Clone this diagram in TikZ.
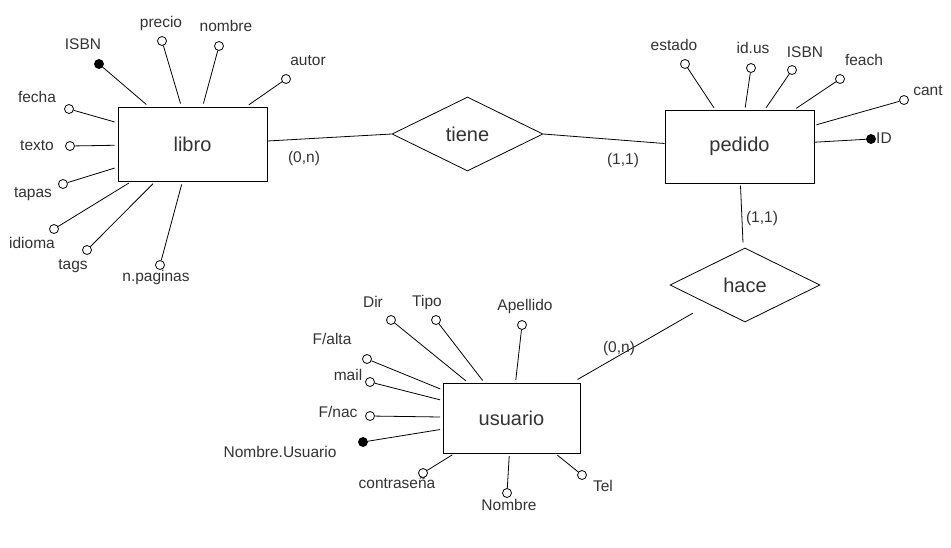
\documentclass[tikz,border=0pt]{standalone}
\usepackage{fontspec}
\setmainfont{Liberation Sans}
\usetikzlibrary{shapes.geometric,calc}
\definecolor{txt}{HTML}{333333}
\begin{document}
\begin{tikzpicture}[x=1pt,y=-1pt,
  ent/.style={draw,line width=1pt,inner sep=0pt,font=\fontsize{20}{23}\selectfont,text=txt},
  rel/.style={draw,diamond,aspect=2,inner sep=0pt,minimum width=151pt,minimum height=74pt,line width=0.8pt,font=\fontsize{20}{23}\selectfont,text=txt},
  att/.style={circle,draw,fill=white,minimum size=9pt,inner sep=0pt,line width=0.8pt},
  keyatt/.style={att,fill=black},
  lab/.style={font=\fontsize{15.5}{18}\selectfont,text=txt,inner sep=0pt,text height=11pt,text depth=3pt},
  con/.style={line width=0.8pt},
]
\fill[white] (0,0) rectangle (951,547);
\useasboundingbox (0,0) rectangle (951,547);

% entities
\node[ent,minimum width=149pt,minimum height=74pt] (libro) at (192.5,144) {libro};
\node[ent,minimum width=149pt,minimum height=73pt] (pedido) at (739.5,146.5) {pedido};
\node[ent,minimum width=137pt,minimum height=70pt] (usuario) at (511.5,418) {usuario};

% relationships
\node[rel] (tiene) at (467.5,134) {tiene};
\node[rel,minimum width=150pt] (hace) at (745,285) {hace};

% relationship connectors
\draw[con] ($(libro.east)+(0,-3)$) -- (tiene.west);
\draw[con] (tiene.east) -- ($(pedido.west)+(0,-3)$);
\draw[con] ($(pedido.south)+(1,2)$) -- ($(hace.north)+(-2,-5)$);
\coordinate (hacefree) at ($(hace.south west)+(-14.5,9.5)$);
\draw[con] (hacefree) -- ($(usuario.north east)+(-3,-3)$);

\node[lab] (c1) at (304,158) {(0,n)};
\node[lab] (c2) at (623,160) {(1,1)};
\node[lab] (c3) at (762,218) {(1,1)};
\node[lab] (c4) at (619,348) {(0,n)};

% libro attributes
\foreach \n/\x/\y/\t/\lx/\ly/\s in {
  lisbn/99/64/ISBN/83/45/keyatt,
  lprecio/162/41/precio/161/23/att,
  lnombre/219/46/nombre/226/27/att,
  lautor/286/79/autor/308/61/att,
  lfecha/69/109/fecha/37/98/att,
  ltexto/70/146/texto/37/146/att,
  ltapas/63/184/tapas/33/193/att,
  lidioma/54/229/idioma/32/244/att,
  ltags/87/250/tags/73/265/att,
  lpag/160/265/n.paginas/156/277/att}{
  \node[\s] (\n) at (\x,\y) {};
  \node[lab] (\n-l) at (\lx,\ly) {\t};
  \draw[con,shorten >=3pt] (\n) -- (libro);
}

% pedido attributes
\foreach \n/\x/\y/\t/\lx/\ly/\s in {
  pestado/685/64/estado/674/46/att,
  pidus/751/68/id.us/753/49/att,
  pisbn/792/70/ISBN/805/53/att,
  pfeach/840/79/feach/864/61/att,
  pcant/904/100/cant/928/91/att}{
  \node[\s] (\n) at (\x,\y) {};
  \node[lab] (\n-l) at (\lx,\ly) {\t};
  \draw[con,shorten >=2pt] (\n) -- (pedido);
}
\node[keyatt] (pid) at (871,139) {};
\node[lab,anchor=west] (pid-l) at (876,139) {ID};
\draw[con] (pid) -- (pedido);

% usuario attributes
\foreach \n/\x/\y/\t/\lx/\ly/\s in {
  udir/391/320/Dir/373/303/att,
  utipo/436/320/Tipo/427/302/att,
  uape/522/325/Apellido/525/306/att,
  ualta/367/359/F\slash alta/332/340/att,
  umail/370/382/mail/348/376/att,
  unac/370/416/F\slash nac/338/413/att,
  unu/363/442/Nombre.Usuario/280/453/keyatt,
  upass/423/473/contraseña/397/484/att,
  unom/507/493/Nombre/509/506/att,
  utel/582/475/Tel/603/487/att}{
  \node[\s] (\n) at (\x,\y) {};
  \node[lab] (\n-l) at (\lx,\ly) {\t};
  \draw[con,shorten >=2.5pt] (\n) -- (usuario);
}
\end{tikzpicture}
\end{document}
